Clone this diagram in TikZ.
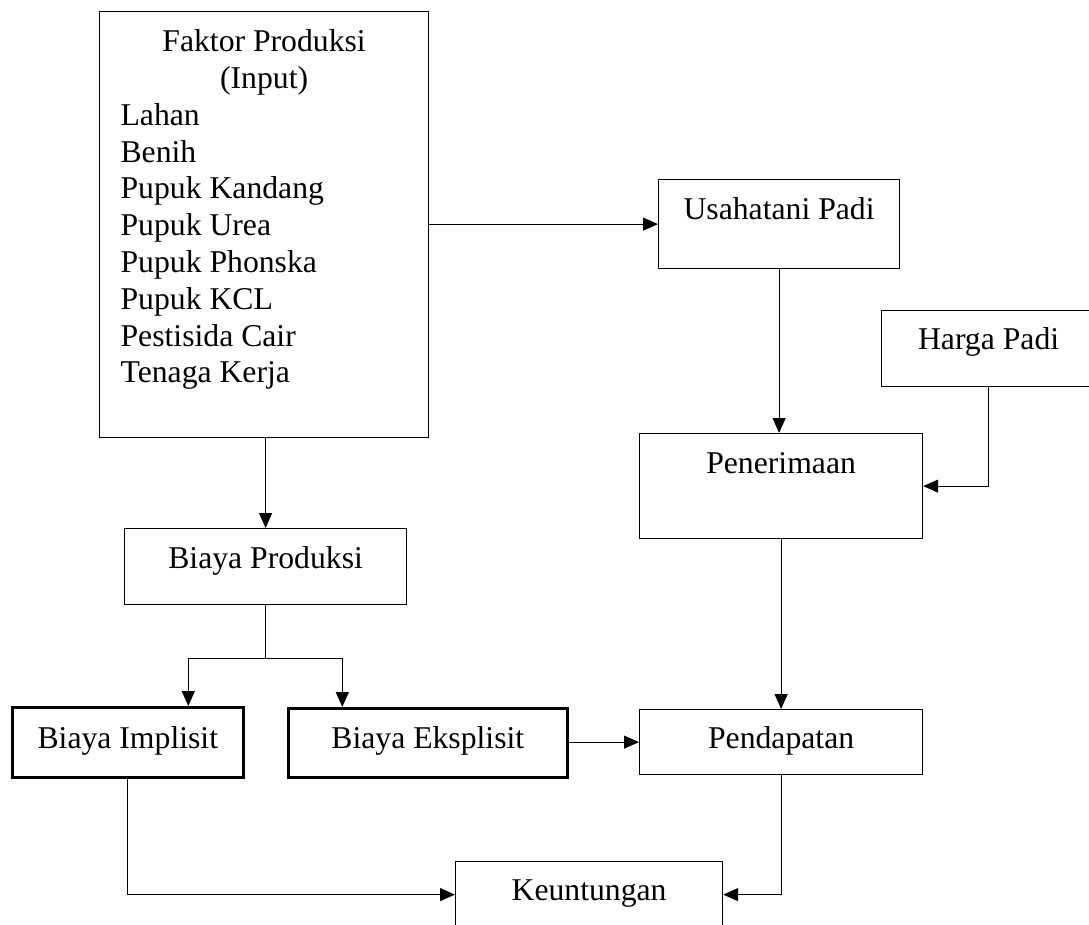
\documentclass[tikz,border=0pt]{standalone}
\usepackage{fontspec}
\setmainfont{Liberation Serif}
\usetikzlibrary{arrows.meta}
\tikzset{
    box/.style={draw, line width=1.2pt, anchor=north west, inner sep=0pt, align=center},
    boldbox/.style={box, line width=2.6pt},
    link/.style={line width=1.2pt},
    arr/.style={link, -{Triangle[length=15pt,width=13pt]}}
}
\begin{document}
\begin{tikzpicture}[x=1pt, y=-1pt, every node/.style={font=\fontsize{31.7}{36.8}\selectfont}]
    \useasboundingbox (0,0) rectangle (1089,924);

    \node[box, inner xsep=21pt] (fp) at (99,11) {\parbox[c][426pt][t]{287pt}{\centering\rule{0pt}{40pt}Faktor Produksi\\(Input)\par
        \raggedright Lahan\\Benih\\Pupuk Kandang\\Pupuk Urea\\Pupuk Phonska\\Pupuk KCL\\Pestisida Cair\\Tenaga Kerja}};
    \node[box, minimum width=241pt, text height=40pt, text depth=49pt] (ut) at (658,179) {Usahatani Padi};
    \node[box, minimum width=214pt, text height=39pt, text depth=37pt] (hp) at (881,310) {Harga Padi};
    \node[box, minimum width=283pt, text height=40pt, text depth=65pt] (pn) at (639,433) {Penerimaan};
    \node[box, minimum width=282pt, text height=40pt, text depth=36pt] (bp) at (124,528) {Biaya Produksi};
    \node[boldbox, minimum width=231pt, text height=41pt, text depth=29pt] (bi) at (11,706) {Biaya Implisit};
    \node[boldbox, minimum width=279pt, text height=40pt, text depth=29pt] (be) at (287,707) {Biaya Eksplisit};
    \node[box, minimum width=283pt, text height=39pt, text depth=26pt] (pd) at (639,709) {Pendapatan};
    \node[box, minimum width=267pt, text height=39pt, text depth=27pt] (ku) at (455,861) {Keuntungan};

    \draw[arr] (ut.west -| fp.east) -- (ut.west);
    \draw[arr] (fp.south -| bp.north) -- (bp.north);
    \draw[arr] (ut.south) -- (ut.south |- pn.north);
    \draw[arr] (hp.south) |- (pn.east);
    \draw[arr] (pn.south) -- (pd.north);

    \coordinate (fork) at ([yshift=-53pt]bp.south);
    \draw[link] (bp.south) -- (fork);
    \draw[arr] (fork) -| ([xshift=60.5pt]bi.north);
    \draw[arr] (fork) -| ([xshift=-85.5pt]be.north);

    \draw[arr] (pd.west -| be.east) -- (pd.west);
    \draw[arr] (bi.south) |- (ku.west);
    \draw[arr] (pd.south) |- (ku.east);
\end{tikzpicture}
\end{document}
